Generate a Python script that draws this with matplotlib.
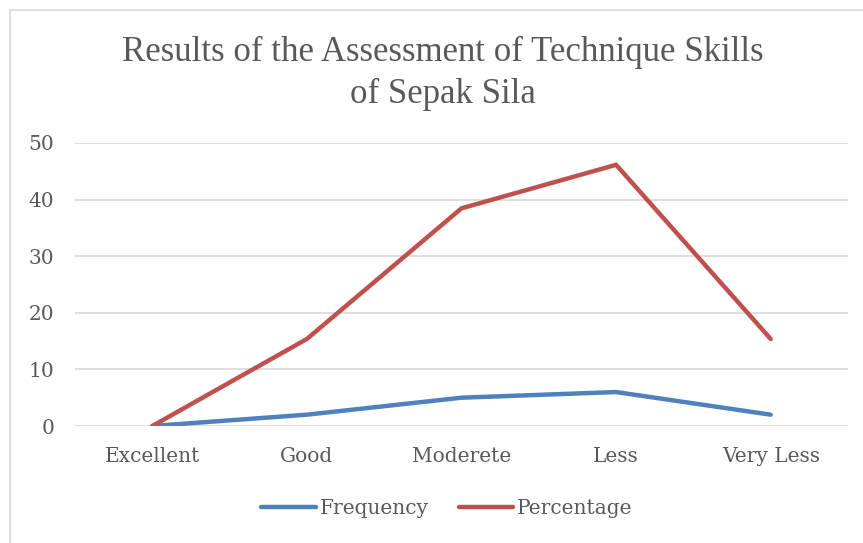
import matplotlib.pyplot as plt
from matplotlib.lines import Line2D

categories = ['Excellent', 'Good', 'Moderete', 'Less', 'Very Less']
frequency = [0, 2, 5, 6, 2]
percentage = [0, 15.38, 38.46, 46.15, 15.38]
yticks = [0, 10, 20, 30, 40, 50]

blue = '#4F81BD'
red = '#C0504D'
grey = '#595959'
font = 'DejaVu Serif'
title_font = 'Liberation Serif'

fig = plt.figure(figsize=(8.63, 5.43), dpi=100)
ax = fig.add_axes([75 / 863, 1 - 426 / 543, 773 / 863, 283 / 543])

x = range(len(categories))
ax.plot(x, frequency, color=blue, lw=3.2, solid_capstyle='round', solid_joinstyle='round')
ax.plot(x, percentage, color=red, lw=3.2, solid_capstyle='round', solid_joinstyle='round')

ax.set_xlim(-0.5, len(categories) - 0.5)
ax.set_ylim(0, 50)
ax.set_yticks(yticks)
ax.set_xticks(list(x))
ax.set_xticklabels(categories)
ax.grid(axis='y', color='#D9D9D9', lw=1.2)
ax.set_axisbelow(True)
for s in ax.spines.values():
    s.set_visible(False)
ax.tick_params(length=0, labelsize=14.5, colors=grey)
ax.tick_params(axis='y', pad=15)
ax.tick_params(axis='x', pad=15)
for lab in ax.get_xticklabels() + ax.get_yticklabels():
    lab.set_fontfamily(font)

fig.text(443 / 863, 1 - 52 / 543, 'Results of the Assessment of Technique Skills',
         ha='center', va='center', fontsize=25, color=grey, family=title_font)
fig.text(443 / 863, 1 - 94 / 543, 'of Sepak Sila',
         ha='center', va='center', fontsize=25, color=grey, family=title_font)

# chart border (only left/top visible in the reference)
fig.add_artist(Line2D([10 / 863, 10 / 863], [0, 1 - 10 / 543], color='#D9D9D9', lw=1.2,
                      transform=fig.transFigure))
fig.add_artist(Line2D([10 / 863, 1], [1 - 10 / 543, 1 - 10 / 543], color='#D9D9D9', lw=1.2,
                      transform=fig.transFigure))

handles = [Line2D([], [], color=blue, lw=3.2, solid_capstyle='round'),
           Line2D([], [], color=red, lw=3.2, solid_capstyle='round')]
leg = fig.legend(handles, ['Frequency', 'Percentage'], loc='center',
                 bbox_to_anchor=(447 / 863, 1 - 509 / 543), ncol=2, frameon=False,
                 handlelength=2.7, handletextpad=0.2, columnspacing=1.5,
                 prop={'family': font, 'size': 14.5})
for t in leg.get_texts():
    t.set_color(grey)

fig.savefig('out.png', dpi=100)
